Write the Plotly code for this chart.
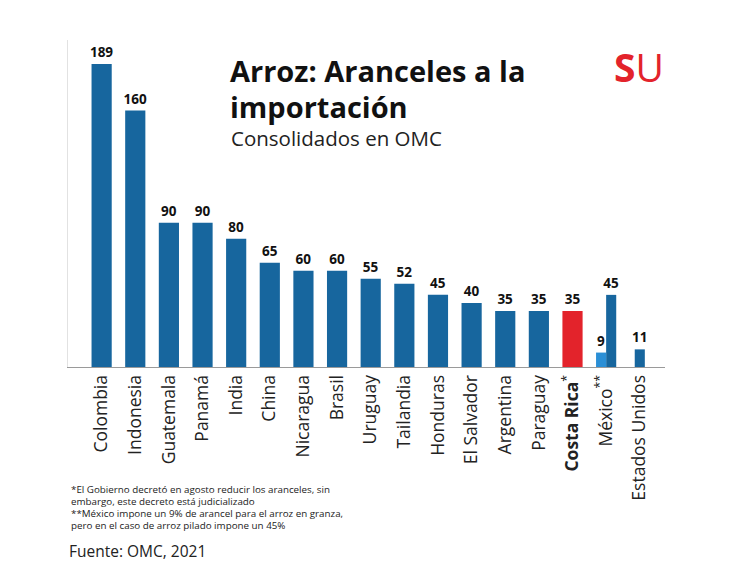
import plotly.graph_objects as go

categories = ["Colombia", "Indonesia", "Guatemala", "Panamá", "India", "China", "Nicaragua",
              "Brasil", "Uruguay", "Tailandia", "Honduras", "El Salvador", "Argentina",
              "Paraguay", "Costa Rica", "México", "Estados Unidos"]
values = [189, 160, 90, 90, 80, 65, 60, 60, 55, 52, 45, 40, 35, 35, 35, 45, 11]
mexico_granza = 9
tick_labels = ["Colombia", "Indonesia", "Guatemala", "Panamá", "India", "China", "Nicaragua",
               "Brasil", "Uruguay", "Tailandia", "Honduras", "El Salvador", "Argentina",
               "Paraguay", "<b>Costa Rica</b><sup>*</sup>", "México<sup>**</sup>", "Estados Unidos"]
title_lines = ["<b>Arroz: Aranceles a la</b>", "<b>importación</b>"]
subtitle = "Consolidados en OMC"
footnotes = ["*El Gobierno decretó en agosto reducir los aranceles, sin",
             "embargo, este decreto está judicializado",
             "**México impone un 9% de arancel para el arroz en granza,",
             "pero en el caso de arroz pilado impone un 45%"]
source = "Fuente: OMC, 2021"

DARK = "#17669e"
RED = "#e3232b"
LIGHT = "#2b8fd6"

W, H = 750, 582
L, R, T, B = 68, 85, 40, 215
PW, PH = W - L - R, H - T - B

def px(x):
    return (x - L) / PW

def py(y):
    return (H - B - y) / PH

colors = [RED if c == "Costa Rica" else DARK for c in categories]
widths = [0.3 if c in ("México", "Estados Unidos") else 0.6 for c in categories]
offsets = [0.0 if c == "México" else (-0.15 if c == "Estados Unidos" else -0.3) for c in categories]

label_font = dict(family="Open Sans", size=13.5, color="#111111")

fig = go.Figure()
fig.add_trace(go.Bar(
    x=categories, y=values, marker=dict(color=colors, line=dict(width=0)),
    width=widths, offset=offsets,
    text=[str(v) for v in values], textposition="outside", cliponaxis=False,
    constraintext="none", textfont=label_font,
    texttemplate="<b>%{text}</b>", hoverinfo="skip"))
fig.add_trace(go.Bar(
    x=["México"], y=[mexico_granza], marker=dict(color=LIGHT, line=dict(width=0)),
    width=[0.3], offset=[-0.3],
    text=[str(mexico_granza)], textposition="outside", cliponaxis=False,
    constraintext="none", textfont=label_font,
    texttemplate="<b>%{text}</b>", hoverinfo="skip"))

fig.update_layout(
    width=W, height=H, margin=dict(l=L, r=R, t=T, b=B, autoexpand=False),
    paper_bgcolor="white", plot_bgcolor="white",
    barmode="overlay", showlegend=False,
    xaxis=dict(range=[-1.0, 16.75], tickmode="array", tickvals=categories, ticktext=tick_labels,
               tickangle=-90, showgrid=False, showline=True, linecolor="#9a9a9a", linewidth=1,
               ticks="", automargin=False,
               tickfont=dict(family="Open Sans", size=17.5, color="#222222"), fixedrange=True),
    yaxis=dict(range=[0, 204], showgrid=False, showticklabels=False, zeroline=False,
               automargin=False,
               showline=True, linecolor="#e2e2e2", linewidth=1, ticks="", fixedrange=True),
)

annotations = [
    dict(x=px(229), y=py(50), text=title_lines[0],
         font=dict(family="Open Sans", size=29, color="#111111")),
    dict(x=px(229), y=py(86), text=title_lines[1],
         font=dict(family="Open Sans", size=29, color="#111111")),
    dict(x=px(230), y=py(123), text=subtitle,
         font=dict(family="Open Sans", size=20.5, color="#222222")),
    dict(x=px(613), y=py(39), text="<b>S</b>U",
         font=dict(family="Open Sans", size=39, color=RED)),
    dict(x=px(68), y=py(539), text=source,
         font=dict(family="Open Sans", size=15.5, color="#222222")),
]
for i, line in enumerate(footnotes):
    annotations.append(dict(x=px(70), y=py(482 + 12 * i), text=line,
                            font=dict(family="Open Sans", size=9.8, color="#222222")))
for a in annotations:
    a.update(xref="paper", yref="paper", showarrow=False, xanchor="left", yanchor="top",
             align="left", borderpad=0)
fig.update_layout(annotations=annotations)

fig.write_html("out.html", config={"displayModeBar": False},
               post_script="document.body.style.margin='0';")
